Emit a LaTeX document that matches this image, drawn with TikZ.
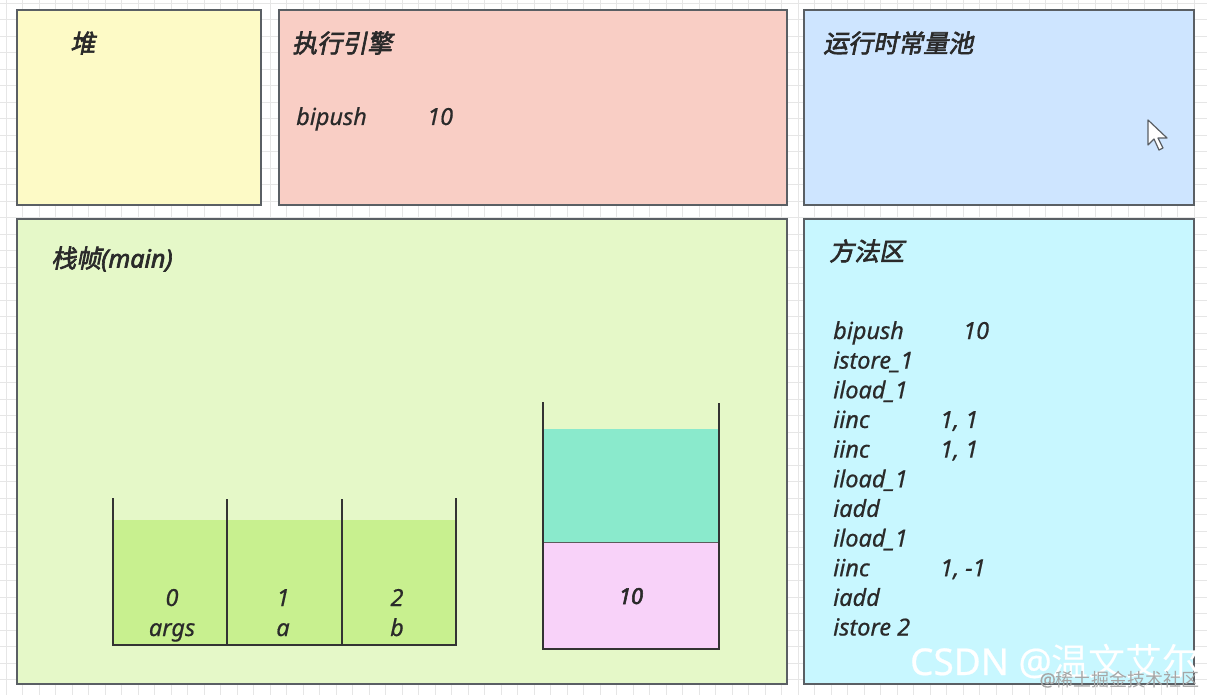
\documentclass[tikz,border=0pt]{standalone}
\usepackage{fontspec}
\setmainfont[FakeBold=0.6]{Noto Sans}
\newfontfamily\latbf[FakeBold=2.5]{Noto Sans}
\newfontfamily\cjkbf[FakeSlant=0.2,FakeBold=2.5]{Noto Sans CJK SC}
\newfontfamily\cjk{Noto Sans CJK SC}
\definecolor{heapfill}{HTML}{FDFAC6}
\definecolor{enginefill}{HTML}{F9CEC5}
\definecolor{poolfill}{HTML}{CEE5FF}
\definecolor{framefill}{HTML}{E5F8C8}
\definecolor{methodfill}{HTML}{C8F7FF}
\definecolor{slotfill}{HTML}{C8F08F}
\definecolor{tealfill}{HTML}{8AEACC}
\definecolor{pinkfill}{HTML}{F8D2F9}
\definecolor{boxline}{HTML}{5A5F64}
\definecolor{wall}{HTML}{333333}
\definecolor{gridc}{HTML}{E6E6E6}
\definecolor{txt}{HTML}{2A2A2A}
\tikzset{
  panel/.style={draw=boxline, line width=1.5pt, inner sep=0pt, outer sep=0pt, anchor=north west},
  title/.style={font=\fontsize{25}{27}\selectfont, text=txt, inner sep=0pt, anchor=west},
  code/.style={font=\fontsize{23.5}{26}\selectfont\itshape, text=txt, inner sep=0pt, anchor=base west},
  lbl/.style={font=\fontsize{23.5}{26}\selectfont\itshape, text=txt, inner sep=0pt, anchor=base},
  wallline/.style={draw=wall, line width=2.5pt}
}
\begin{document}
\begin{tikzpicture}[x=1pt,y=-1pt]
\useasboundingbox (0,0) rectangle (1207,695);
\fill[white] (0,0) rectangle (1207,695);
% grid
\foreach \i in {0,...,73} {\draw[gridc, line width=0.8pt] ({\i*16.5+6},0) -- ({\i*16.5+6},695);}
\foreach \j in {0,...,42} {\draw[gridc, line width=0.8pt] (0,{\j*16.5+3}) -- (1207,{\j*16.5+3});}

% panels
\node[panel, fill=heapfill, minimum width=244pt, minimum height=195pt] (heap) at (17,10) {};
\node[panel, fill=enginefill, minimum width=508pt, minimum height=195pt] (engine) at (279,10) {};
\node[panel, fill=poolfill, minimum width=390pt, minimum height=195pt] (pool) at (804,10) {};
\node[panel, fill=framefill, minimum width=770pt, minimum height=465pt] (frame) at (17,219) {};
\node[panel, fill=methodfill, minimum width=390pt, minimum height=465pt] (method) at (804,219) {};

% titles
\node[title] (heapt) at (70,43) {\cjkbf 堆};
\node[title] (enginet) at (292,43) {\cjkbf 执行引擎};
\node[title] (poolt) at (823,43) {\cjkbf 运行时常量池};
\node[title] (framet) at (51,259) {{\cjkbf 栈帧}{\latbf\itshape (main)}};
\node[title] (methodt) at (829,251) {\cjkbf 方法区};

% engine code
\node[code] (eng1) at (296,125) {bipush};
\node[code] (eng2) at (427,125) {10};

% method area code
\foreach \n/\op [count=\k from 0] in {m1/bipush, m2/istore\_1, m3/iload\_1, m4/iinc, m5/iinc, m6/iload\_1, m7/iadd, m8/iload\_1, m9/iinc, m10/iadd, m11/istore\ 2} {
  \node[code] (\n) at (833,{339+\k*29.65}) {\op};
}
\node[code] (a1) at (963,339) {10};
\node[code] (a4) at (940,{339+3*29.65}) {1, 1};
\node[code] (a5) at (940,{339+4*29.65}) {1, 1};
\node[code] (a9) at (940,{339+8*29.65}) {1, -1};

% local variable table
\fill[slotfill] (114,520) rectangle (455,645);
\coordinate (lv1t) at (113,498);
\coordinate (lv1b) at (113,645);
\coordinate (lv2t) at (227,499);
\coordinate (lv2b) at (227,646);
\coordinate (lv3t) at (342,499);
\coordinate (lv3b) at (342,645);
\coordinate (lv4t) at (456,498);
\coordinate (lv4b) at (456,645);
\draw[wallline] (lv1t) -- (lv1b) -- (lv4b) -- (lv4t);
\draw[wallline] (lv2t) -- (lv2b);
\draw[wallline] (lv3t) -- (lv3b);
\node[lbl] (s0) at (172,606) {0};
\node[lbl] (n0) at (172,636) {args};
\node[lbl] (s1) at (283,606) {1};
\node[lbl] (n1) at (283,636) {a};
\node[lbl] (s2) at (397,606) {2};
\node[lbl] (n2) at (397,636) {b};

% operand stack
\fill[tealfill] (544,429) rectangle (718,542);
\fill[pinkfill] (544,542) rectangle (718,648);
\draw[wall!80, line width=1pt] (544,542) -- (718,542);
\coordinate (os1) at (543,402);
\coordinate (os2) at (543,649);
\coordinate (os3) at (719,649);
\coordinate (os4) at (719,403);
\draw[wallline] (os1) -- (os2) -- (os3) -- (os4);
\node[lbl, font=\fontsize{22}{24}\selectfont\latbf\itshape] (ten) at (631,604) {10};

% mouse cursor
\draw[fill=white, draw=boxline, line width=1.2pt, line join=round] (1148,120) -- (1148,145) -- (1154,139) -- (1159,150) -- (1163,148) -- (1158,138) -- (1167,138) -- cycle;

% watermark
\node[inner sep=0pt, anchor=base east, text=white, font=\fontsize{37}{40}\selectfont] (wm) at (1200,675) {CSDN @{\cjk 温文艾尔}};
\node[inner sep=0pt, anchor=base east, text=gray!70, font=\fontsize{18}{20}\selectfont] (wm2) at (1200,686) {@{\cjk 稀土掘金技术社区}};
\end{tikzpicture}
\end{document}
